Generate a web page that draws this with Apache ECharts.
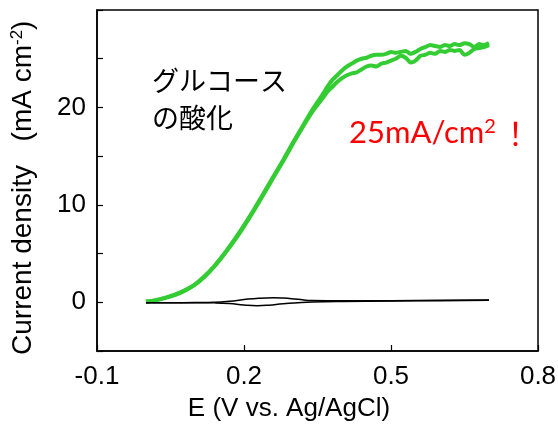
<!DOCTYPE html>
<html>
<head>
<meta charset="utf-8">
<script src="https://cdn.jsdelivr.net/npm/echarts@6/dist/echarts.min.js"></script>
<style>
html,body{margin:0;padding:0;background:#fff;}
#c{width:558px;height:424px;}
</style>
</head>
<body>
<div id="c"></div>
<script>
// ---- data ----
var xTicks = [-0.1, 0.2, 0.5, 0.8];
var yTickLabels = [0, 10, 20];

// glucose oxidation, forward scan (lower branch in plateau)
var glcFwdX = [0.00,0.02,0.04,0.06,0.08,0.10,0.12,0.14,0.16,0.18,0.20,0.22,0.24,0.26,0.28,0.30,0.32,0.34,0.36,
  0.37,0.38,0.39,0.40,0.41,0.42,0.43,0.44,0.45,0.46,0.47,0.48,0.49,0.50,0.51,0.52,0.53,0.54,0.55,0.56,0.57,0.58,0.59,0.60,0.61,0.62,0.63,0.64,0.65,0.66,0.67,0.68,0.69,0.70];
var glcFwdY = [0.05,0.2,0.45,0.75,1.2,1.8,2.65,3.7,4.95,6.3,7.8,9.4,11.1,12.8,14.5,16.3,18.0,19.6,20.9,
  21.6,22.1,22.6,23.0,23.3,23.5,23.6,23.9,24.2,24.3,24.2,24.5,24.6,24.8,25.0,25.3,25.1,24.6,24.8,25.3,25.4,25.6,25.5,25.8,25.7,25.9,25.8,25.9,25.4,25.6,26.0,26.1,26.2,26.4];
// glucose oxidation, reverse scan (upper branch in plateau)
var glcRevX = [0.70,0.69,0.68,0.67,0.66,0.65,0.64,0.63,0.62,0.61,0.60,0.59,0.58,0.57,0.56,0.55,0.54,0.53,0.52,0.51,0.50,0.49,0.48,0.47,0.46,0.45,0.44,0.43,0.42,0.41,0.40,0.39,0.38,0.37,0.36,0.34,0.32,0.30,0.28,0.26,0.24,0.22,0.20,0.18,0.16,0.14,0.12,0.10,0.08,0.06,0.04,0.02,0.00];
var glcRevY = [26.6,26.4,26.5,26.2,26.5,26.6,26.4,26.5,26.3,26.4,26.2,26.3,26.4,26.2,26.0,25.7,25.5,25.8,25.7,25.6,25.7,25.5,25.4,25.4,25.3,25.1,25.0,24.8,24.5,24.2,23.8,23.3,22.8,22.1,21.3,19.8,18.1,16.4,14.6,12.9,11.2,9.5,7.9,6.4,5.0,3.75,2.7,1.85,1.25,0.8,0.48,0.22,0.07];

// blank CV (black)
var blkFwdX = [0.00,0.05,0.10,0.14,0.17,0.20,0.227,0.25,0.28,0.31,0.34,0.40,0.50,0.60,0.70];
var blkFwdY = [-0.05,-0.05,-0.05,-0.06,-0.12,-0.28,-0.35,-0.30,-0.15,-0.05,0.02,0.08,0.13,0.17,0.22];
var blkRevX = [0.70,0.60,0.50,0.40,0.34,0.31,0.28,0.26,0.23,0.20,0.17,0.14,0.10,0.05,0.00];
var blkRevY = [0.24,0.20,0.17,0.15,0.18,0.30,0.43,0.47,0.42,0.28,0.10,0.00,-0.03,-0.04,-0.05];

function pairs(xs, ys){ return xs.map(function(x,i){ return [x, ys[i]]; }); }

var chart = echarts.init(document.getElementById('c'), null, {renderer:'canvas'});
var AX = 'Liberation Sans, Arial, sans-serif';
chart.setOption({
  animation: false,
  backgroundColor: '#fff',
  grid: {left: 97, right: 20, top: 10, bottom: 73, show: true, borderColor: '#000', borderWidth: 1.5, outerBoundsMode: 'none'},
  xAxis: {
    type: 'value', min: -0.1, max: 0.8, interval: 0.3,
    axisLine: {show: true, onZero: false, lineStyle: {color: '#000', width: 1.5}},
    axisTick: {show: true, inside: true, length: 6, lineStyle: {color: '#000', width: 1.2}},
    splitLine: {show: false},
    axisLabel: {color: '#000', fontFamily: AX, fontSize: 26, margin: 13,
      formatter: function(v){ var r = Math.round(v*10)/10; return xTicks.indexOf(r) >= 0 ? r.toFixed(1) : ''; }}
  },
  yAxis: {
    type: 'value', min: -5, max: 30, interval: 5,
    axisLine: {show: true, onZero: false, lineStyle: {color: '#000', width: 1.5}},
    axisTick: {show: true, inside: true, length: 6, lineStyle: {color: '#000', width: 1.2}},
    splitLine: {show: false},
    axisLabel: {color: '#000', fontFamily: AX, fontSize: 26, margin: 11,
      formatter: function(v){ return yTickLabels.indexOf(v) >= 0 ? String(v) : ''; }}
  },
  series: [
    {type: 'line', data: pairs(glcFwdX, glcFwdY), showSymbol: false, smooth: 0.2,
     lineStyle: {color: '#33cc33', width: 4}, z: 2},
    {type: 'line', data: pairs(glcRevX, glcRevY), showSymbol: false, smooth: 0.2,
     lineStyle: {color: '#33cc33', width: 4}, z: 2},
    {type: 'line', data: pairs(blkFwdX, blkFwdY), showSymbol: false, smooth: true,
     lineStyle: {color: '#000', width: 1.5}, z: 3},
    {type: 'line', data: pairs(blkRevX, blkRevY), showSymbol: false, smooth: true,
     lineStyle: {color: '#000', width: 1.5}, z: 3}
  ],
  graphic: [
    {type: 'text', x: 289, y: 409, style: {text: 'E (V vs. Ag/AgCl)', font: '26px ' + AX, fill: '#000', align: 'center', verticalAlign: 'middle'}},
    {type: 'text', x: 23, y: 260, rotation: Math.PI/2,
     style: {text: 'Current density', font: '28px ' + AX, fill: '#000', align: 'center', verticalAlign: 'middle'}},
    {type: 'text', x: 23, y: 81, rotation: Math.PI/2,
     style: {text: '(mA cm{sup|-2})', font: '28px ' + AX, fill: '#000', align: 'center', verticalAlign: 'middle',
       rich: {sup: {fontSize: 17, fontFamily: AX, fill: '#000', padding: [0,0,12,0]}}}},
    {type: 'text', x: 152, y: 81, style: {text: 'グルコース', font: '27px "Noto Sans CJK JP"', fill: '#000', align: 'left', verticalAlign: 'middle'}},
    {type: 'text', x: 152, y: 118, style: {text: 'の酸化', font: '27px "Noto Sans CJK JP"', fill: '#000', align: 'left', verticalAlign: 'middle'}},
    {type: 'text', x: 349, y: 133,
     style: {text: '25mA/cm{sup|2}{ex|！}', font: '31px Lato', fill: '#ff0000', align: 'left', verticalAlign: 'middle',
       rich: {sup: {fontSize: 20, fontFamily: 'Lato', fill: '#ff0000', padding: [0,0,13,0]},
              ex: {fontSize: 31, fontFamily: '"Noto Sans CJK JP"', fill: '#ff0000', padding: [0,0,0,4]}}}}
  ]
});
</script>
</body>
</html>
